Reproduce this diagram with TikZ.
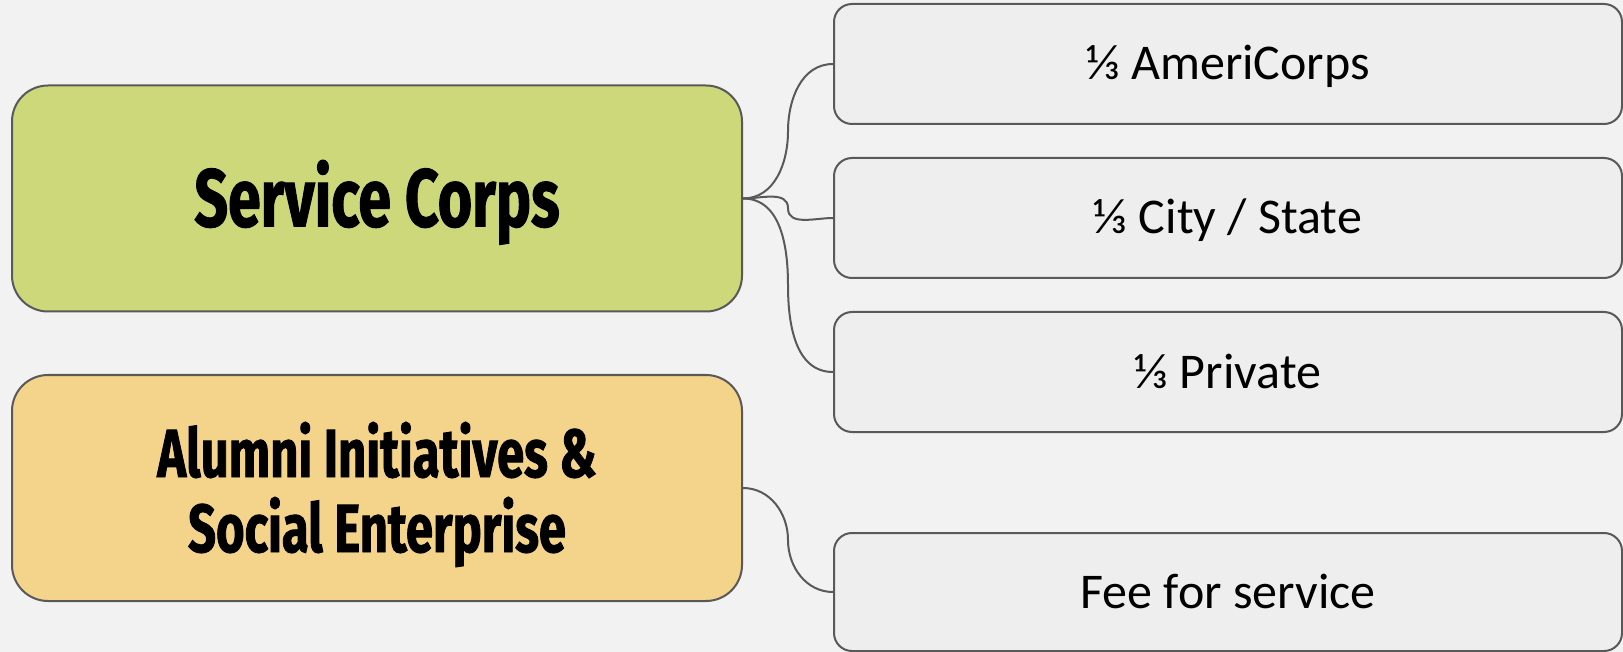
\documentclass[tikz,border=0pt]{standalone}
\usepackage{fontspec}
\setmainfont{Carlito}
\newfontfamily\headfont[FakeStretch=0.72,FakeBold=1.2]{Fira Sans}
\usetikzlibrary{calc}

\definecolor{bgcol}{HTML}{F2F2F2}
\definecolor{corpsgreen}{HTML}{CDD87B}
\definecolor{alumniyellow}{HTML}{F4D38B}
\definecolor{fundgray}{HTML}{EEEEEE}
\definecolor{linegray}{HTML}{595959}

\begin{document}
\begin{tikzpicture}[x=0.5pt,y=0.5pt,
    mainbox/.style={draw=linegray,line width=1pt,rounded corners=18pt,
      minimum width=365pt,minimum height=113pt,align=center,
      font=\headfont\bfseries\fontsize{41}{37.5}\selectfont},
    fundbox/.style={draw=linegray,fill=fundgray,line width=1pt,rounded corners=9pt,
      minimum width=394pt,minimum height=60pt,text height=16pt,text depth=0pt,
      font=\fontsize{25}{30}\selectfont},
    link/.style={draw=linegray,line width=1pt}]
  \fill[bgcol] (0,0) rectangle (1623,-652);
  \useasboundingbox (0,0) rectangle (1623,-652);

  % left column
  \node[mainbox,fill=corpsgreen,text height=28pt,text depth=0pt] (corps) at (377,-198.5) {Service Corps};
  \node[mainbox,fill=alumniyellow,text height=64pt,text depth=0pt,
    font=\headfont\bfseries\fontsize{34}{37.5}\selectfont] (alumni) at (377,-488) {Alumni Initiatives \&\\Social Enterprise};

  % right column
  \node[fundbox] (ameri) at (1228,-64) {⅓ AmeriCorps};
  \node[fundbox] (city) at (1228,-218) {⅓ City / State};
  \node[fundbox] (private) at (1228,-372) {⅓ Private};
  \node[fundbox,minimum height=59pt] (fee) at (1228,-592) {Fee for service};

  % connectors
  \draw[link] (corps.east) to[out=0,in=-90] ($(corps.east)!.5!(ameri.west)$) to[out=90,in=180] (ameri.west);
  \draw[link] (corps.east) to[out=0,in=90] ($(corps.east)!.5!(city.west)$) to[out=-90,in=180] (city.west);
  \draw[link] (corps.east) to[out=0,in=90] ($(corps.east)!.5!(private.west)$) to[out=-90,in=180] (private.west);
  \draw[link] (alumni.east) to[out=0,in=90] ($(alumni.east)!.5!(fee.west)$) to[out=-90,in=180] (fee.west);
\end{tikzpicture}
\end{document}
